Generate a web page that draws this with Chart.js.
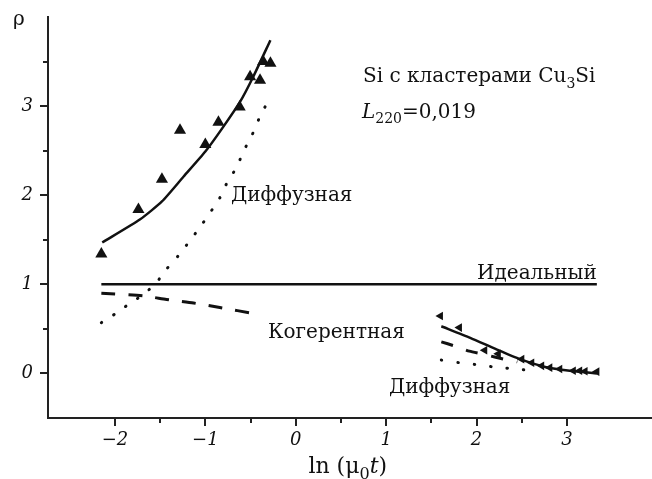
<!DOCTYPE html>
<html lang="ru">
<head>
<meta charset="utf-8">
<title>Si с кластерами Cu3Si</title>
<script src="https://cdn.jsdelivr.net/npm/chart.js@4.4.1/dist/chart.umd.min.js"></script>
<style>
  html, body { margin: 0; padding: 0; background: #fff; }
  #wrap { width: 652px; height: 479px; }
</style>
</head>
<body>
<div id="wrap"><canvas id="grafico" width="652" height="479"></canvas></div>
<script>
// ветвь при малых ln(mu0 t): подгонка, эксперимент, диффузная и когерентная составляющие
const fitUpX = [-2.14, -1.72, -1.48, -1.24, -1.0, -0.8, -0.615, -0.47, -0.28];
const fitUpY = [1.47, 1.73, 1.93, 2.21, 2.49, 2.77, 3.05, 3.33, 3.74];
const expUpX = [-2.15, -1.74, -1.48, -1.28, -1.00, -0.855, -0.62, -0.505, -0.395, -0.36, -0.28];
const expUpY = [1.34, 1.84, 2.18, 2.73, 2.57, 2.82, 2.99, 3.33, 3.29, 3.50, 3.48];
const diffUpX = [-2.15, -1.98, -1.83, -1.68, -1.54, -1.43, -1.30, -1.17, -1.06, -0.95, -0.84, -0.76, -0.65, -0.58, -0.49, -0.41, -0.32];
const diffUpY = [0.57, 0.68, 0.79, 0.89, 1.02, 1.17, 1.32, 1.49, 1.64, 1.80, 1.97, 2.14, 2.32, 2.49, 2.66, 2.85, 3.03];
const cohUpX = [-2.15, -1.68, -1.43, -1.13, -0.84, -0.45];
const cohUpY = [0.90, 0.87, 0.83, 0.79, 0.74, 0.67];

// идеальный кристалл
const idealX = [-2.15, 3.33];
const idealY = [1, 1];

// ветвь при больших ln(mu0 t)
const fitLowX = [1.61, 1.93, 2.22, 2.48, 2.77, 3.03, 3.33];
const fitLowY = [0.53, 0.40, 0.27, 0.16, 0.07, 0.03, 0.0];
const expLowX = [1.60, 1.81, 2.09, 2.24, 2.50, 2.61, 2.72, 2.81, 2.92, 3.07, 3.14, 3.20, 3.33];
const expLowY = [0.645, 0.515, 0.26, 0.22, 0.16, 0.12, 0.085, 0.065, 0.05, 0.03, 0.03, 0.025, 0.02];
const cohLowX = [1.61, 1.75, 1.92, 2.10, 2.30, 2.45];
const cohLowY = [0.355, 0.31, 0.25, 0.21, 0.16, 0.13];
const diffLowX = [1.61, 1.81, 1.99, 2.18, 2.37, 2.57];
const diffLowY = [0.15, 0.12, 0.10, 0.074, 0.056, 0.037];

// оси
const xMin = -2.74, xMax = 3.94;
const yMin = -0.5, yMax = 4.0;
const xLabels = [-2, -1, 0, 1, 2, 3];
const yLabels = [0, 1, 2, 3];

const SERIF = '"DejaVu Serif", serif';
const INK = '#111';

function puntos(xs, ys) {
  return xs.map((x, i) => ({ x: x, y: ys[i] }));
}

function linea(xs, ys, extra) {
  return Object.assign({
    data: puntos(xs, ys),
    showLine: true,
    borderColor: INK,
    borderWidth: 2.5,
    pointRadius: 0,
    tension: 0.2,
    fill: false
  }, extra || {});
}

function marcadores(xs, ys, radio, giro) {
  return {
    data: puntos(xs, ys),
    showLine: false,
    pointStyle: 'triangle',
    pointRadius: radio,
    pointRotation: giro,
    backgroundColor: INK,
    borderColor: INK,
    borderWidth: 0
  };
}

// текст с индексами: части [{t, it, sub}]
function escribir(ctx, partes, x, y, size) {
  let cx = x;
  partes.forEach(p => {
    const s = p.sub ? Math.round(size * 0.72) : size;
    ctx.font = (p.it ? 'italic ' : '') + s + 'px ' + SERIF;
    ctx.fillText(p.t, cx, y + (p.sub ? size * 0.28 : 0));
    cx += ctx.measureText(p.t).width;
  });
}

// подписи кривых, привязаны к координатам данных
const rotulos = [
  { x: -0.716, y: 1.935, partes: [{ t: 'Диффузная' }] },
  { x: 2.005, y: 1.06, partes: [{ t: 'Идеальный' }] },
  { x: -0.306, y: 0.397, partes: [{ t: 'Когерентная' }] },
  { x: 1.031, y: -0.22, partes: [{ t: 'Диффузная' }] },
  { x: 0.744, y: 3.27, partes: [{ t: 'Si с кластерами Cu' }, { t: '3', sub: true }, { t: 'Si' }] },
  { x: 0.733, y: 2.87, partes: [{ t: 'L', it: true }, { t: '220', sub: true }, { t: '=0,019' }] }
];

const textos = {
  id: 'textos',
  afterDraw(chart) {
    const ctx = chart.ctx;
    const sx = chart.scales.x, sy = chart.scales.y;
    const area = chart.chartArea;
    ctx.save();
    ctx.fillStyle = INK;
    ctx.textBaseline = 'alphabetic';
    ctx.textAlign = 'left';

    rotulos.forEach(r => {
      escribir(ctx, r.partes, sx.getPixelForValue(r.x), sy.getPixelForValue(r.y), 20);
    });

    // подписи осей
    escribir(ctx, [{ t: 'ρ' }], area.left - 35, area.top + 8, 20);
    escribir(ctx, [{ t: 'ln (μ' }, { t: '0', sub: true }, { t: 't', it: true }, { t: ')' }],
      sx.getPixelForValue(0.14), area.bottom + 55, 22);

    // засечки: основные и промежуточные через 0.5
    ctx.strokeStyle = '#222';
    ctx.lineWidth = 2;
    sx.ticks.forEach(t => {
      const v = t.value;
      if (v <= xMin || v >= xMax || Math.abs(v * 2 - Math.round(v * 2)) > 1e-6) return;
      const px = Math.round(sx.getPixelForValue(v));
      const len = Number.isInteger(v) ? 8 : 5;
      ctx.beginPath();
      ctx.moveTo(px, area.bottom);
      ctx.lineTo(px, area.bottom + len);
      ctx.stroke();
    });
    sy.ticks.forEach(t => {
      const v = t.value;
      if (v <= yMin || v >= yMax) return;
      const py = Math.round(sy.getPixelForValue(v));
      const len = Number.isInteger(v) ? 8 : 5;
      ctx.beginPath();
      ctx.moveTo(area.left - len, py);
      ctx.lineTo(area.left, py);
      ctx.stroke();
    });
    ctx.restore();
  }
};

const grafico = new Chart(document.getElementById('grafico').getContext('2d'), {
  type: 'scatter',
  data: {
    datasets: [
      linea(idealX, idealY, { tension: 0 }),
      linea(fitUpX, fitUpY),
      linea(diffUpX, diffUpY, { borderWidth: 3, borderDash: [0.5, 14], borderCapStyle: 'round', tension: 0.2 }),
      linea(cohUpX, cohUpY, { borderWidth: 3, borderDash: [14, 13] }),
      marcadores(expUpX, expUpY, 7, 0),
      linea(fitLowX, fitLowY),
      linea(cohLowX, cohLowY, { borderWidth: 3, borderDash: [12, 14] }),
      linea(diffLowX, diffLowY, { borderWidth: 3, borderDash: [0.5, 16], borderCapStyle: 'round' }),
      marcadores(expLowX, expLowY, 5, -90)
    ]
  },
  options: {
    responsive: false,
    animation: false,
    layout: { autoPadding: false, padding: { top: 17, right: 0, left: 0, bottom: 0 } },
    plugins: {
      legend: { display: false },
      tooltip: { enabled: false }
    },
    scales: {
      x: {
        type: 'linear',
        min: xMin,
        max: xMax,
        afterFit(scale) {
          scale.height = 61;
          scale.paddingLeft = 0;
          scale.paddingRight = 0;
        },
        grid: { display: false, drawTicks: false },
        border: { display: true, color: '#222', width: 2 },
        ticks: {
          stepSize: 0.5,
          autoSkip: false,
          maxRotation: 0,
          padding: 12,
          color: INK,
          font: { family: SERIF, style: 'italic', size: 18 },
          callback: v => xLabels.includes(v) ? String(v).replace('-', '\u2212') : ''
        }
      },
      y: {
        type: 'linear',
        min: yMin,
        max: yMax,
        afterFit(scale) {
          scale.width = 48;
          scale.paddingTop = 0;
          scale.paddingBottom = 0;
        },
        grid: { display: false, drawTicks: false },
        border: { display: true, color: '#222', width: 2 },
        ticks: {
          stepSize: 0.5,
          autoSkip: false,
          padding: 15,
          color: INK,
          font: { family: SERIF, style: 'italic', size: 18 },
          callback: v => yLabels.includes(v) ? String(v) : ''
        }
      }
    }
  },
  plugins: [textos]
});
</script>
</body>
</html>
